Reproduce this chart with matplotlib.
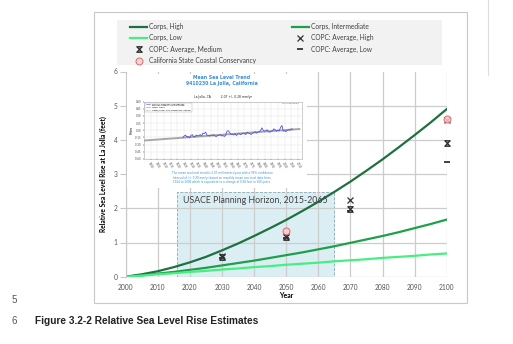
import matplotlib.pyplot as plt
import numpy as np
from matplotlib.lines import Line2D
from matplotlib.patches import Rectangle
from matplotlib.path import Path

W, H = 513, 344

## Corps projections, every 5 years from 2000 to 2100 (feet)
years = [2000, 2005, 2010, 2015, 2020, 2025, 2030, 2035, 2040, 2045, 2050,
         2055, 2060, 2065, 2070, 2075, 2080, 2085, 2090, 2095, 2100]
corps_high = [0, 0.07, 0.16, 0.28, 0.42, 0.58, 0.77, 0.97, 1.19, 1.42, 1.66,
              1.92, 2.19, 2.48, 2.78, 3.10, 3.43, 3.78, 4.14, 4.51, 4.90]
corps_int = [0, 0.04, 0.09, 0.14, 0.20, 0.26, 0.33, 0.40, 0.47, 0.55, 0.63,
             0.71, 0.80, 0.89, 0.99, 1.09, 1.19, 1.30, 1.42, 1.54, 1.67]
corps_low = [0, 0.03, 0.07, 0.10, 0.14, 0.17, 0.21, 0.24, 0.28, 0.31, 0.35,
             0.38, 0.41, 0.45, 0.48, 0.51, 0.55, 0.58, 0.61, 0.65, 0.68]

## COPC averages and Coastal Conservancy estimates
copc_years = [2030, 2050, 2070, 2100]
copc_high = [0.60, 1.18, 2.24, 4.58]
copc_med = [0.58, 1.16, 1.97, 3.92]
copc_low = [0.56, 1.14, 1.93, 3.35]
cscc_years = [2050, 2100]
cscc_vals = [1.34, 4.60]

## planning horizon window
horizon = (2016, 2065)
horizon_top = 2.49

## NOAA La Jolla annual mean sea level (m), 1924-2006
msl_years = list(range(1924, 2007))
msl_vals = [-0.15, -0.12, -0.10, -0.14, -0.13, -0.16, -0.11, -0.09, -0.13, -0.14,
            -0.10, -0.12, -0.11, -0.09, -0.12, -0.06, -0.07, -0.04, -0.10, -0.11,
            -0.12, -0.10, -0.11, -0.09, -0.12, -0.13, -0.11, -0.10, -0.09, -0.12,
            -0.11, -0.13, -0.10, -0.02, -0.01, -0.05, -0.09, -0.08, -0.10, -0.07,
            -0.11, -0.08, -0.07, -0.09, -0.08, -0.06, -0.07, -0.09, -0.04, -0.06,
            -0.07, -0.09, -0.06, -0.05, -0.03, -0.06, -0.04, -0.03, -0.01, 0.05,
            0.00, -0.02, -0.01, 0.01, -0.03, -0.04, -0.02, -0.01, 0.03, 0.01,
            -0.02, 0.00, -0.01, 0.06, 0.10, -0.02, -0.01, -0.03, 0.00, 0.01,
            0.00, 0.03, 0.02]
trend_years = [1895, 2011]
trend_vals = [-0.215, 0.026]

plt.rcParams['font.family'] = ['Lato', 'DejaVu Sans']


def px(x, y):
    return x / W, 1 - y / H


def box(x0, y0, x1, y1):
    return [x0 / W, 1 - y1 / H, (x1 - x0) / W, (y1 - y0) / H]


fig = plt.figure(figsize=(W / 100, H / 100), dpi=100)

## outer frame and legend panel
fig.add_artist(Rectangle(px(94, 302.7), 373 / W, 290.4 / H, transform=fig.transFigure,
                         fill=False, ec='#c8c8c8', lw=0.8))
fig.add_artist(Rectangle(px(116.7, 65), 325 / W, 45 / H, transform=fig.transFigure,
                         fc='#f2f2f2', ec='none'))
fig.add_artist(Line2D([488 / W, 488 / W], [1, 1 - 75 / H], transform=fig.transFigure,
                      color='#dddddd', lw=0.8))

ax = fig.add_axes(box(125.7, 71.5, 446.7, 276.7))
ax.set_xlim(2000, 2100)
ax.set_ylim(0, 6)
ax.set_xticks(range(2000, 2101, 10))
ax.set_yticks(range(0, 7))
ax.grid(True, color='#cccccc', lw=0.9)
ax.yaxis.get_gridlines()[-1].set_visible(False)
for s in ['top', 'right', 'bottom']:
    ax.spines[s].set_visible(False)
ax.spines['left'].set_color('#c8c8c8')
ax.tick_params(axis='x', length=0, labelsize=4.8, labelcolor='#555555', pad=5)
ax.tick_params(axis='y', length=4, color='#c8c8c8', labelsize=4.8, labelcolor='#555555', pad=2)
ax.set_xlabel('Year', fontsize=5, fontweight='bold', labelpad=1)
ax.set_ylabel('Relative Sea Level Rise at La Jolla (feet)', fontsize=4.8,
              fontweight='bold', labelpad=5)

ax.add_patch(Rectangle((horizon[0], 0), horizon[1] - horizon[0], horizon_top,
                       fc='#dbeef3', ec='#8aa8b0', lw=0.6, ls='--', zorder=1))
ax.text(np.mean(horizon), 2.22, 'USACE Planning Horizon, 2015-2065', ha='center',
        va='center', fontsize=6.3, color='#404040', zorder=3)

l_high, = ax.plot(years, corps_high, color='#1f7040', lw=1.6, label='Corps, High')
l_int, = ax.plot(years, corps_int, color='#1ea04a', lw=1.6, label='Corps, Intermediate')
l_low, = ax.plot(years, corps_low, color='#45f080', lw=1.6, label='Corps, Low')

hourglass = Path([(-1, 1), (1, 1), (-1, -1), (1, -1), (-1, 1)],
                 [Path.MOVETO, Path.LINETO, Path.LINETO, Path.LINETO, Path.CLOSEPOLY])
m_low, = ax.plot(copc_years, copc_low, ls='none', marker='_', ms=5, mew=1.3,
                 color='#333333', clip_on=False, label='COPC: Average, Low')
m_med, = ax.plot(copc_years, copc_med, ls='none', marker=hourglass, ms=4, mew=0.8,
                 mfc='#999999', mec='#222222', clip_on=False, label='COPC: Average, Medium')
m_high, = ax.plot(copc_years, copc_high, ls='none', marker='x', ms=4, mew=0.9,
                  color='#333333', clip_on=False, label='COPC: Average, High')
m_cscc, = ax.plot(cscc_years, cscc_vals, ls='none', marker='o', ms=5, mew=0.8,
                  mfc='#f4d0d0', mec='#e06060', alpha=0.85, clip_on=False,
                  label='California State Coastal Conservancy')

handles = [l_high, l_low, m_med, m_cscc, l_int, m_high, m_low]
leg = fig.legend(handles, [h.get_label() for h in handles], ncol=2, loc='upper left',
                 bbox_to_anchor=px(130, 23), frameon=False, fontsize=4.8,
                 handlelength=2.6, handletextpad=0.3, columnspacing=5.3,
                 labelspacing=0.65, borderpad=0, borderaxespad=0)
for t in leg.get_texts():
    t.set_color('#404040')

## NOAA trend chart sitting inside the plot
panel = fig.add_axes(box(127, 74, 307, 188))
panel.set_facecolor('white')
panel.set_xticks([])
panel.set_yticks([])
for s in panel.spines.values():
    s.set_visible(False)

blue = '#3a8fd8'
fig.text(*px(222, 77.5), 'Mean Sea Level Trend', ha='center', va='center',
         fontsize=3.3, color=blue, fontweight='bold', family='DejaVu Sans')
fig.text(*px(222, 83.5), '9410230 La Jolla, California', ha='center', va='center',
         fontsize=3.3, color=blue, fontweight='bold', family='DejaVu Sans')
fig.text(*px(223, 97.5), 'La Jolla, CA          2.07 +/- 0.28 mm/yr', ha='center',
         va='center', fontsize=2.2, color='#222222', family='DejaVu Sans')
fig.text(*px(222, 177.5),
         'The mean sea level trend is 2.07 millimeters/year with a 95% confidence\n'
         'interval of +/- 0.28 mm/yr based on monthly mean sea level data from\n'
         '1924 to 2006 which is equivalent to a change of 0.68 feet in 100 years.',
         ha='center', va='center', fontsize=2.0, color=blue, linespacing=1.2,
         family='DejaVu Sans')

nx = fig.add_axes(box(144, 101.5, 302, 159))
nx.set_xlim(1895, 2013)
nx.set_ylim(-0.6, 0.6)
nx.set_xticks(range(1900, 2011, 5))
nx.set_yticks(np.arange(-0.6, 0.61, 0.15))
nx.set_yticklabels(['%0.2f' % v for v in np.arange(-0.6, 0.61, 0.15)])
nx.tick_params(labelsize=2.0, length=0.8, width=0.3, pad=1, labelcolor='#444444')
nx.tick_params(axis='x', labelrotation=-60)
nx.grid(True, color='#e2e2e2', lw=0.3)
for s in nx.spines.values():
    s.set_color('#aaaaaa')
    s.set_linewidth(0.4)
nx.set_ylabel('Meters', fontsize=1.8, labelpad=1)
nx.plot(trend_years, trend_vals, color='#a8a8a8', lw=1.4)
nx.plot(msl_years, msl_vals, color='#5050e0', lw=0.6)
nx.legend([Line2D([], [], color='#5050e0', lw=0.4), Line2D([], [], color='#999999', lw=0.4),
           Line2D([], [], color='#999999', lw=0.4, ls='--')],
          ['Monthly mean sea level with the\naverage seasonal cycle removed',
           'Linear Trend', 'Upper/Lower 95% Confidence Interval'],
          loc='upper left', fontsize=1.6, handlelength=2, frameon=True, fancybox=False,
          edgecolor='#999999', borderpad=0.4, labelspacing=0.3).get_frame().set_linewidth(0.3)
nx.text(0.98, 0.97, 'Sea Level Online', transform=nx.transAxes, ha='right', va='top',
        fontsize=1.6, color='#666666')

## page text below the figure
fig.text(*px(12, 300), '5', fontsize=7, color='#555555', va='center', family='Liberation Sans')
fig.text(*px(12, 320.5), '6', fontsize=7, color='#555555', va='center', family='Liberation Sans')
fig.text(*px(35, 320.5), 'Figure 3.2-2 Relative Sea Level Rise Estimates', fontsize=7.3,
         fontweight='bold', color='#222222', va='center', family='Liberation Sans')

fig.savefig('out.png', dpi=100)
